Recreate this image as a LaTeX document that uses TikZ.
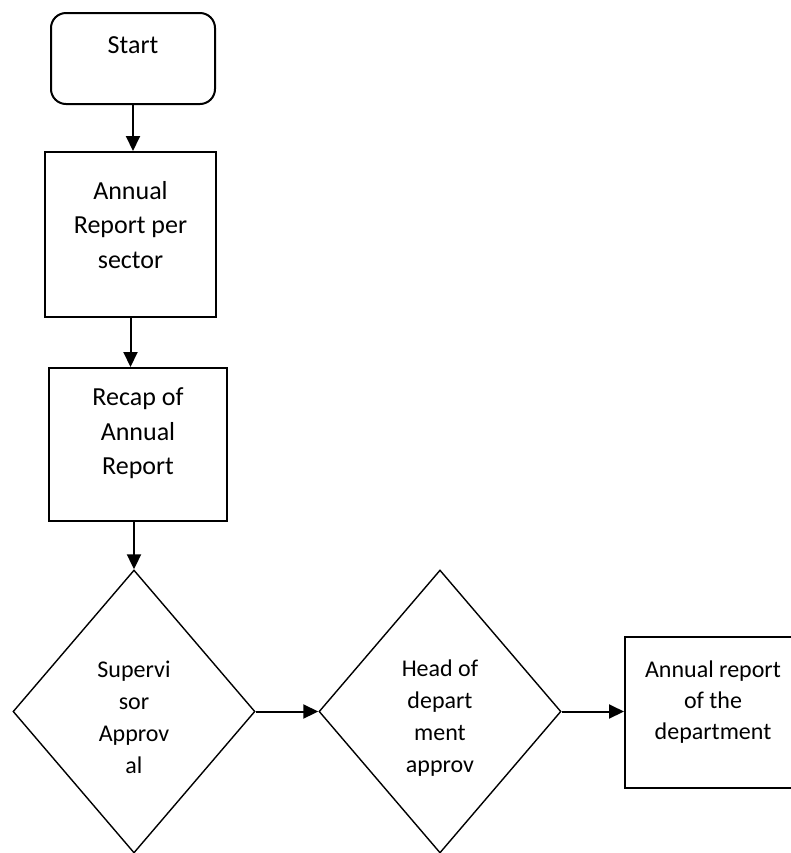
\documentclass[tikz,border=0pt]{standalone}
\usepackage{fontspec}
\setmainfont{Carlito}
\usetikzlibrary{shapes.geometric,arrows.meta}

\begin{document}
\begin{tikzpicture}[x=0.5pt, y=-0.5pt,
  box/.style={draw, line width=1pt, align=center, inner sep=0pt, font=\fontsize{13}{17.25}\selectfont},
  choice/.style={draw, diamond, line width=0.7pt, align=center, inner sep=0pt,
    minimum width=121pt, minimum height=141.5pt, font=\fontsize{12}{16}\selectfont}]

\useasboundingbox (0,0) rectangle (791,853);
\clip (0,0) rectangle (791,853);

\node [box, rounded corners=7.5pt, minimum width=82pt, minimum height=45.5pt] (start) at (133,58.5) {Start\\[-3.75pt]\mbox{}};
\node [box, minimum width=85.5pt, minimum height=82.5pt] (report) at (130.5,234.5) {Annual\\Report per\\sector\\[-7.25pt]\mbox{}};
\node [box, minimum width=89pt, minimum height=76.5pt] (recap) at (138,444.5) {Recap of\\Annual\\Report\\[-4.25pt]\mbox{}};

\node [choice] (super) at (134,711.5) {\mbox{}\\[-1.5pt]Supervi\\sor\\Approv\\al};
\node [choice] (head) at (440,711.5) {\mbox{}\\[-1.5pt]Head of\\depart\\ment\\approv};

\node [box, font=\fontsize{12}{15.5}\selectfont, minimum width=88pt, minimum height=75.5pt] (dept) at (713,712.5) {Annual report\\of the\\department\\[-2.7pt]\mbox{}};

\begin{scope}[line width=1pt, -{Triangle[length=7.5pt,width=7pt]}]
\draw (start) -- (start |- report.north);
\draw (report) -- (report |- recap.north);
\draw (super |- recap.south) -- (super);
\draw (super) -- (head);
\draw (head) -- (head -| dept.west);
\end{scope}

\end{tikzpicture}
\end{document}
